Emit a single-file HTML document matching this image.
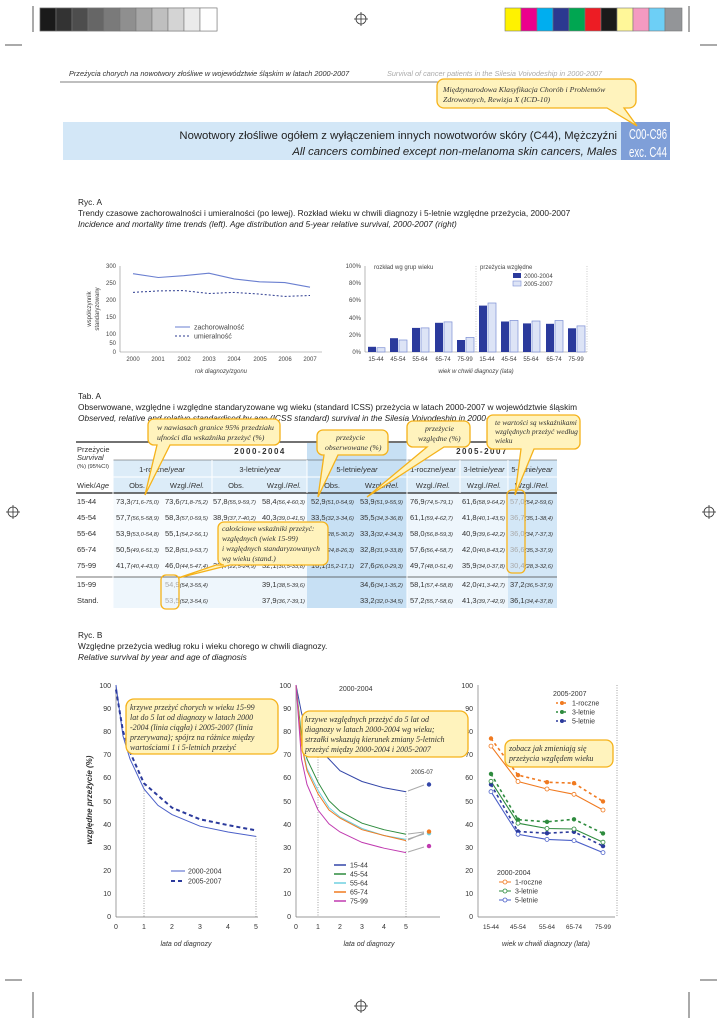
<!DOCTYPE html>
<html><head><meta charset="utf-8"><style>
body{margin:0;background:#fff}
svg{display:block;font-family:"Liberation Sans",sans-serif}
.s{font-family:"Liberation Serif",serif;font-style:italic}
.i{font-style:italic}
.t{font-size:7.5px;fill:#333}
.c{font-size:5.8px;font-style:italic;fill:#333}
.cl{fill:#fff3bd;stroke:#f5b21a;stroke-width:1.3}
</style></head><body>
<svg width="722" height="1024" viewBox="0 0 722 1024">
<g stroke="#555" stroke-width="1"><line x1="33" y1="6" x2="33" y2="32"/><line x1="689" y1="6" x2="689" y2="32"/>
<line x1="5" y1="45" x2="22" y2="45"/><line x1="700" y1="45" x2="717" y2="45"/>
<line x1="33" y1="992" x2="33" y2="1018"/><line x1="689" y1="992" x2="689" y2="1018"/>
<line x1="5" y1="980" x2="22" y2="980"/><line x1="700" y1="980" x2="717" y2="980"/></g>
<g stroke="#777" stroke-width="0.6">
<rect x="40" y="8" width="177" height="23" fill="none"/>
<rect x="40" y="8" width="16" height="23" fill="#1a1a1a"/><rect x="56" y="8" width="16" height="23" fill="#333"/><rect x="72" y="8" width="16" height="23" fill="#4d4d4d"/><rect x="88" y="8" width="16" height="23" fill="#666"/><rect x="104" y="8" width="16" height="23" fill="#7a7a7a"/><rect x="120" y="8" width="16" height="23" fill="#8f8f8f"/><rect x="136" y="8" width="16" height="23" fill="#a6a6a6"/><rect x="152" y="8" width="16" height="23" fill="#bfbfbf"/><rect x="168" y="8" width="16" height="23" fill="#d4d4d4"/><rect x="184" y="8" width="16" height="23" fill="#ebebeb"/><rect x="200" y="8" width="17" height="23" fill="#fff"/>
<rect x="505" y="8" width="16" height="23" fill="#fff200"/><rect x="521" y="8" width="16" height="23" fill="#ec008c"/><rect x="537" y="8" width="16" height="23" fill="#00aeef"/><rect x="553" y="8" width="16" height="23" fill="#2b3990"/><rect x="569" y="8" width="16" height="23" fill="#00a651"/><rect x="585" y="8" width="16" height="23" fill="#ed1c24"/><rect x="601" y="8" width="16" height="23" fill="#1a1a1a"/><rect x="617" y="8" width="16" height="23" fill="#fff799"/><rect x="633" y="8" width="16" height="23" fill="#f49ac1"/><rect x="649" y="8" width="16" height="23" fill="#6dcff6"/><rect x="665" y="8" width="17" height="23" fill="#939598"/></g>
<g fill="none" stroke="#333" stroke-width="0.8">
<circle cx="361" cy="19" r="5"/><line x1="354" y1="19" x2="368" y2="19"/><line x1="361" y1="12" x2="361" y2="26"/>
<circle cx="361" cy="1006" r="5"/><line x1="354" y1="1006" x2="368" y2="1006"/><line x1="361" y1="999" x2="361" y2="1013"/>
<circle cx="13" cy="512" r="5"/><line x1="6" y1="512" x2="20" y2="512"/><line x1="13" y1="505" x2="13" y2="519"/>
<circle cx="709" cy="512" r="5"/><line x1="702" y1="512" x2="716" y2="512"/><line x1="709" y1="505" x2="709" y2="519"/></g>

<text x="69" y="76" font-size="7.3" class="i" fill="#333">Przeżycia chorych na nowotwory złośliwe w województwie śląskim w latach 2000-2007</text>
<text x="387" y="76" font-size="7.3" class="i" fill="#aaa">Survival of cancer patients in the Silesia Voivodeship in 2000-2007</text>
<line x1="60" y1="82" x2="625" y2="82" stroke="#555" stroke-width="0.8"/>
<rect x="63" y="122" width="558" height="38" fill="#d3e7f7"/>
<rect x="621" y="122" width="49" height="38" fill="#7f9fd8"/>
<text x="617" y="139" font-size="11.3" text-anchor="end" fill="#222">Nowotwory złośliwe ogółem z wyłączeniem innych nowotworów skóry (C44), Mężczyźni</text>
<text x="617" y="155" font-size="11.3" text-anchor="end" class="i" fill="#222">All cancers combined except non-melanoma skin cancers, Males</text>
<text x="629" y="139" font-size="15" fill="#fff" textLength="38" lengthAdjust="spacingAndGlyphs">C00-C96</text>
<text x="629" y="157" font-size="15" fill="#fff" textLength="38" lengthAdjust="spacingAndGlyphs">exc. C44</text>
<path class="cl" d="M444,79 h185 a7,7 0 0 1 7,7 v15 a7,7 0 0 1 -7,7 h-5 l13,18 l-30,-18 h-163 a7,7 0 0 1 -7,-7 v-15 a7,7 0 0 1 7,-7z"/>
<text class="s" x="443" y="92" font-size="7.8" fill="#333">Międzynarodowa Klasyfikacja Chorób i Problemów</text>
<text class="s" x="443" y="102" font-size="7.8" fill="#333">Zdrowotnych, Rewizja X (ICD-10)</text>

<text x="78" y="205" font-size="8.3" fill="#222">Ryc. A</text>
<text x="78" y="216" font-size="8.3" fill="#222">Trendy czasowe zachorowalności i umieralności (po lewej). Rozkład wieku w chwili diagnozy i 5-letnie względne przeżycia, 2000-2007</text>
<text x="78" y="227" font-size="8.3" class="i" fill="#222">Incidence and mortality time trends (left). Age distribution and 5-year relative survival, 2000-2007 (right)</text>

<g font-size="6" fill="#444">
<line x1="120" y1="266" x2="120" y2="352" stroke="#888" stroke-width="0.6"/><line x1="120" y1="352" x2="322" y2="352" stroke="#888" stroke-width="0.6"/>
<text x="116" y="268" text-anchor="end">300</text><text x="116" y="285" text-anchor="end">250</text><text x="116" y="302" text-anchor="end">200</text><text x="116" y="319" text-anchor="end">150</text><text x="116" y="336" text-anchor="end">100</text><text x="116" y="345" text-anchor="end">50</text><text x="116" y="354" text-anchor="end">0</text>
<text x="133" y="361" text-anchor="middle">2000</text><text x="158" y="361" text-anchor="middle">2001</text><text x="184" y="361" text-anchor="middle">2002</text><text x="209" y="361" text-anchor="middle">2003</text><text x="234" y="361" text-anchor="middle">2004</text><text x="260" y="361" text-anchor="middle">2005</text><text x="285" y="361" text-anchor="middle">2006</text><text x="310" y="361" text-anchor="middle">2007</text>
<text x="221" y="373" text-anchor="middle" class="i">rok diagnozy/zgonu</text>
<text transform="translate(91,309) rotate(-90)" text-anchor="middle">współczynnik</text>
<text transform="translate(99,309) rotate(-90)" text-anchor="middle">standaryzowany</text>
<polyline fill="none" stroke="#6a7fd0" stroke-width="1.1" points="133,273.7 158.3,277.5 183.6,275.7 208.9,273.2 234.2,278.9 259.5,281.8 284.8,282.6 310,287.2"/>
<polyline fill="none" stroke="#2b3a8f" stroke-width="1" stroke-dasharray="2,2" points="133,292.4 158.3,290.9 183.6,290.6 208.9,293.5 234.2,292.4 259.5,294.1 284.8,296.4 310,295.5"/>
<line x1="175" y1="327" x2="190" y2="327" stroke="#6a7fd0"/><text x="194" y="329.5" font-size="7">zachorowalność</text>
<line x1="175" y1="336" x2="190" y2="336" stroke="#2b3a8f" stroke-dasharray="2,2"/><text x="194" y="338.5" font-size="7">umieralność</text>

<line x1="365" y1="266" x2="365" y2="352" stroke="#888" stroke-width="0.6"/><line x1="365" y1="352" x2="587" y2="352" stroke="#888" stroke-width="0.6"/>
<line x1="476" y1="266" x2="476" y2="352" stroke="#aaa" stroke-width="0.6" stroke-dasharray="1,1.5"/>
<line x1="587" y1="266" x2="587" y2="352" stroke="#aaa" stroke-width="0.6" stroke-dasharray="1,1.5"/>
<text x="361" y="268" text-anchor="end">100%</text><text x="361" y="285" text-anchor="end">80%</text><text x="361" y="302" text-anchor="end">60%</text><text x="361" y="320" text-anchor="end">40%</text><text x="361" y="337" text-anchor="end">20%</text><text x="361" y="354" text-anchor="end">0%</text>
<text x="374" y="269">rozkład wg grup wieku</text><text x="480" y="269">przeżycia względne</text>
<rect x="513" y="273" width="8" height="5" fill="#2b3a9c"/><text x="524" y="278">2000-2004</text>
<rect x="513" y="281" width="8" height="5" fill="#dde4f6" stroke="#7c8fd4" stroke-width="0.6"/><text x="524" y="286">2005-2007</text>
<g fill="#2b3a9c">
<rect x="368" y="346.8" width="8" height="5.2"/><rect x="390" y="338.2" width="8" height="13.8"/><rect x="412" y="327.9" width="8" height="24.1"/><rect x="435" y="322.8" width="8" height="29.2"/><rect x="457" y="340" width="8" height="12"/>
<rect x="479" y="305.6" width="8" height="46.4"/><rect x="501" y="321.5" width="8" height="30.5"/><rect x="523" y="323.4" width="8" height="28.6"/><rect x="546" y="323.8" width="8" height="28.2"/><rect x="568" y="328.3" width="8" height="23.7"/></g>
<g fill="#dde4f6" stroke="#7c8fd4" stroke-width="0.7">
<rect x="377" y="347.7" width="8" height="4.3"/><rect x="399" y="340" width="8" height="12"/><rect x="421" y="327.9" width="8" height="24.1"/><rect x="444" y="321.9" width="8" height="30.1"/><rect x="466" y="337.4" width="8" height="14.6"/>
<rect x="488" y="303" width="8" height="49"/><rect x="510" y="320.4" width="8" height="31.6"/><rect x="532" y="321" width="8" height="31"/><rect x="555" y="320.5" width="8" height="31.5"/><rect x="577" y="325.9" width="8" height="26.1"/></g>
<text x="376" y="361" text-anchor="middle">15-44</text><text x="398" y="361" text-anchor="middle">45-54</text><text x="420" y="361" text-anchor="middle">55-64</text><text x="443" y="361" text-anchor="middle">65-74</text><text x="465" y="361" text-anchor="middle">75-99</text>
<text x="487" y="361" text-anchor="middle">15-44</text><text x="509" y="361" text-anchor="middle">45-54</text><text x="531" y="361" text-anchor="middle">55-64</text><text x="554" y="361" text-anchor="middle">65-74</text><text x="576" y="361" text-anchor="middle">75-99</text>
<text x="476" y="373" text-anchor="middle" class="i">wiek w chwili diagnozy (lata)</text>
</g>

<text x="78" y="399" font-size="8.3" fill="#222">Tab. A</text>
<text x="78" y="410" font-size="8.3" fill="#222">Obserwowane, względne i względne standaryzowane wg wieku (standard ICSS) przeżycia w latach 2000-2007 w województwie śląskim</text>
<text x="78" y="421" font-size="8.3" class="i" fill="#222">Observed, relative and relative standardised by age (ICSS standard) survival in the Silesia Voivodeship in 2000-2007</text>
<rect x="113" y="460" width="444" height="33" fill="#dcecf8"/>
<rect x="113" y="493" width="444" height="115" fill="#eef6fc"/>
<rect x="113" y="493" width="194" height="84" fill="#f7fbfe"/>
<rect x="307" y="443" width="100" height="165" fill="#c7e0f4"/>
<rect x="508" y="460" width="49" height="148" fill="#d3e7f7"/>
<g stroke="#444"><line x1="76" y1="442" x2="557" y2="442" stroke-width="1.6"/><line x1="113" y1="460" x2="557" y2="460" stroke-width="0.6"/>
<line x1="76" y1="493" x2="557" y2="493" stroke-width="1.6"/><line x1="76" y1="577" x2="557" y2="577" stroke-width="0.7"/>
<line x1="76" y1="477" x2="557" y2="477" stroke="#fff" stroke-width="1"/></g>
<g stroke="#fff" stroke-width="1"><line x1="113" y1="443" x2="113" y2="608"/><line x1="212" y1="460" x2="212" y2="493"/><line x1="307" y1="460" x2="307" y2="493"/><line x1="407" y1="443" x2="407" y2="608"/><line x1="460" y1="460" x2="460" y2="493"/><line x1="508" y1="460" x2="508" y2="493"/></g>
<g font-size="7.5" fill="#333">
<text x="77" y="452">Przeżycie</text><text x="77" y="460" class="i">Survival</text><text x="77" y="468" font-size="5.8">(%) (95%CI)</text>
<text x="260" y="454" text-anchor="middle" font-weight="bold" letter-spacing="1.5" font-size="8">2000-2004</text>
<text x="482" y="454" text-anchor="middle" font-weight="bold" letter-spacing="1.5" font-size="8">2005-2007</text>
<text x="162" y="472" text-anchor="middle">1-roczne/<tspan class="i">year</tspan></text><text x="260" y="472" text-anchor="middle">3-letnie/<tspan class="i">year</tspan></text><text x="357" y="472" text-anchor="middle">5-letnie/<tspan class="i">year</tspan></text>
<text x="433" y="472" text-anchor="middle">1-roczne/<tspan class="i">year</tspan></text><text x="484" y="472" text-anchor="middle">3-letnie/<tspan class="i">year</tspan></text><text x="532" y="472" text-anchor="middle">5-letnie/<tspan class="i">year</tspan></text>
<text x="77" y="488">Wiek/<tspan class="i">Age</tspan></text>
<text x="137" y="488" text-anchor="middle">Obs.</text><text x="187" y="488" text-anchor="middle">Wzgl./<tspan class="i">Rel.</tspan></text><text x="236" y="488" text-anchor="middle">Obs.</text><text x="284" y="488" text-anchor="middle">Wzgl./<tspan class="i">Rel.</tspan></text><text x="332" y="488" text-anchor="middle">Obs.</text><text x="382" y="488" text-anchor="middle">Wzgl./<tspan class="i">Rel.</tspan></text><text x="433" y="488" text-anchor="middle">Wzgl./<tspan class="i">Rel.</tspan></text><text x="484" y="488" text-anchor="middle">Wzgl./<tspan class="i">Rel.</tspan></text><text x="532" y="488" text-anchor="middle">Wzgl./<tspan class="i">Rel.</tspan></text>
</g>
<g class="t">
<text x="77" y="504">15-44</text><text x="77" y="520">45-54</text><text x="77" y="536">55-64</text><text x="77" y="552">65-74</text><text x="77" y="568">75-99</text><text x="77" y="587">15-99</text><text x="77" y="603">Stand.</text>
<text x="116" y="504">73,3<tspan class="c">(71,6-75,0)</tspan></text><text x="165" y="504">73,6<tspan class="c">(71,8-75,2)</tspan></text><text x="213" y="504">57,8<tspan class="c">(55,9-59,7)</tspan></text><text x="262" y="504">58,4<tspan class="c">(56,4-60,3)</tspan></text><text x="311" y="504">52,9<tspan class="c">(51,0-54,9)</tspan></text><text x="360" y="504">53,9<tspan class="c">(51,9-55,9)</tspan></text><text x="410" y="504">76,9<tspan class="c">(74,5-79,1)</tspan></text><text x="462" y="504">61,6<tspan class="c">(58,9-64,2)</tspan></text><text x="510" y="504"><tspan fill="#aaa">57,0</tspan><tspan class="c">(54,2-59,6)</tspan></text>
<text x="116" y="520">57,7<tspan class="c">(56,5-58,9)</tspan></text><text x="165" y="520">58,3<tspan class="c">(57,0-59,5)</tspan></text><text x="213" y="520">38,9<tspan class="c">(37,7-40,2)</tspan></text><text x="262" y="520">40,3<tspan class="c">(39,0-41,5)</tspan></text><text x="311" y="520">33,5<tspan class="c">(32,3-34,6)</tspan></text><text x="360" y="520">35,5<tspan class="c">(34,3-36,8)</tspan></text><text x="410" y="520">61,1<tspan class="c">(59,4-62,7)</tspan></text><text x="462" y="520">41,8<tspan class="c">(40,1-43,5)</tspan></text><text x="510" y="520"><tspan fill="#aaa">36,7</tspan><tspan class="c">(35,1-38,4)</tspan></text>
<text x="116" y="536">53,9<tspan class="c">(53,0-54,8)</tspan></text><text x="165" y="536">55,1<tspan class="c">(54,2-56,1)</tspan></text><text x="311" y="536">29,3<tspan class="c">(28,5-30,2)</tspan></text><text x="360" y="536">33,3<tspan class="c">(32,4-34,3)</tspan></text><text x="410" y="536">58,0<tspan class="c">(56,8-59,3)</tspan></text><text x="462" y="536">40,9<tspan class="c">(39,6-42,2)</tspan></text><text x="510" y="536"><tspan fill="#aaa">36,0</tspan><tspan class="c">(34,7-37,3)</tspan></text>
<text x="116" y="552">50,5<tspan class="c">(49,6-51,3)</tspan></text><text x="165" y="552">52,8<tspan class="c">(51,9-53,7)</tspan></text><text x="311" y="552">25,6<tspan class="c">(24,8-26,3)</tspan></text><text x="360" y="552">32,8<tspan class="c">(31,9-33,8)</tspan></text><text x="410" y="552">57,6<tspan class="c">(56,4-58,7)</tspan></text><text x="462" y="552">42,0<tspan class="c">(40,8-43,2)</tspan></text><text x="510" y="552"><tspan fill="#aaa">36,6</tspan><tspan class="c">(35,3-37,9)</tspan></text>
<text x="116" y="568">41,7<tspan class="c">(40,4-43,0)</tspan></text><text x="165" y="568">46,0<tspan class="c">(44,5-47,4)</tspan></text><text x="213" y="568">23,7<tspan class="c">(22,5-24,9)</tspan></text><text x="262" y="568">32,1<tspan class="c">(30,5-33,8)</tspan></text><text x="311" y="568">16,1<tspan class="c">(15,2-17,1)</tspan></text><text x="360" y="568">27,6<tspan class="c">(26,0-29,3)</tspan></text><text x="410" y="568">49,7<tspan class="c">(48,0-51,4)</tspan></text><text x="462" y="568">35,9<tspan class="c">(34,0-37,8)</tspan></text><text x="510" y="568"><tspan fill="#aaa">30,4</tspan><tspan class="c">(28,3-32,6)</tspan></text>
<text x="165" y="587"><tspan fill="#aaa">54,9</tspan><tspan class="c">(54,3-55,4)</tspan></text><text x="262" y="587">39,1<tspan class="c">(38,5-39,6)</tspan></text><text x="360" y="587">34,6<tspan class="c">(34,1-35,2)</tspan></text><text x="410" y="587">58,1<tspan class="c">(57,4-58,8)</tspan></text><text x="462" y="587">42,0<tspan class="c">(41,3-42,7)</tspan></text><text x="510" y="587">37,2<tspan class="c">(36,5-37,9)</tspan></text>
<text x="165" y="603"><tspan fill="#aaa">53,5</tspan><tspan class="c">(52,3-54,6)</tspan></text><text x="262" y="603">37,9<tspan class="c">(36,7-39,1)</tspan></text><text x="360" y="603">33,2<tspan class="c">(32,0-34,5)</tspan></text><text x="410" y="603">57,2<tspan class="c">(55,7-58,6)</tspan></text><text x="462" y="603">41,3<tspan class="c">(39,7-42,9)</tspan></text><text x="510" y="603">36,1<tspan class="c">(34,4-37,8)</tspan></text>
</g>
<g fill="none" stroke="#f5b21a" stroke-width="1.3"><rect x="507" y="490" width="18" height="83" rx="5"/><rect x="161" y="575" width="18" height="34" rx="5"/></g>
<path class="cl" d="M154,419 h120 a6,6 0 0 1 6,6 v14 a6,6 0 0 1 -6,6 h-104 l-25,50 l12,-50 h-3 a6,6 0 0 1 -6,-6 v-14 a6,6 0 0 1 6,-6z"/>
<text class="s" x="157" y="430" font-size="7.8" fill="#333">w nawiasach granice 95% przedziału</text><text class="s" x="157" y="440" font-size="7.8" fill="#333">ufności dla wskaźnika przeżyć (%)</text>
<path class="cl" d="M323,430 h59 a6,6 0 0 1 6,6 v13 a6,6 0 0 1 -6,6 h-44 l-20,42 l6,-42 h-1 a6,6 0 0 1 -6,-6 v-13 a6,6 0 0 1 6,-6z"/>
<text class="s" x="336" y="440" font-size="7.8" fill="#333">przeżycie</text><text class="s" x="325" y="450" font-size="7.8" fill="#333">obserwowane (%)</text>
<path class="cl" d="M413,421 h51 a6,6 0 0 1 6,6 v14 a6,6 0 0 1 -6,6 h-20 l-77,50 l60,-50 h-14 a6,6 0 0 1 -6,-6 v-14 a6,6 0 0 1 6,-6z"/>
<text class="s" x="425" y="431" font-size="7.8" fill="#333">przeżycie</text><text class="s" x="418" y="441" font-size="7.8" fill="#333">względne (%)</text>
<path class="cl" d="M493,415 h81 a6,6 0 0 1 6,6 v22 a6,6 0 0 1 -6,6 h-40 l-19,46 l6,-46 h-28 a6,6 0 0 1 -6,-6 v-22 a6,6 0 0 1 6,-6z"/>
<text class="s" x="495" y="425" font-size="7.5" fill="#333">te wartości są wskaźnikami</text><text class="s" x="495" y="434" font-size="7.5" fill="#333">względnych przeżyć według</text><text class="s" x="495" y="443" font-size="7.5" fill="#333">wieku</text>
<path class="cl" d="M224,522 h98 a6,6 0 0 1 6,6 v31 a6,6 0 0 1 -6,6 h-92 l-52,13 l38,-13 h8 a6,6 0 0 1 -6,-6 v-31 a6,6 0 0 1 6,-6z"/>
<text class="s" x="222" y="531" font-size="7.6" fill="#333">całościowe wskaźniki przeżyć:</text><text class="s" x="222" y="541" font-size="7.6" fill="#333">względnych (wiek 15-99)</text><text class="s" x="222" y="551" font-size="7.6" fill="#333">i względnych standaryzowanych</text><text class="s" x="222" y="561" font-size="7.6" fill="#333">wg wieku (stand.)</text>

<text x="78" y="638" font-size="8.3" fill="#222">Ryc. B</text>
<text x="78" y="649" font-size="8.3" fill="#222">Względne przeżycia według roku i wieku chorego w chwili diagnozy.</text>
<text x="78" y="660" font-size="8.3" class="i" fill="#222">Relative survival by year and age of diagnosis</text>
<g font-size="7" fill="#333">
<text transform="translate(92,800) rotate(-90)" text-anchor="middle" font-weight="bold" class="i" font-size="8">względne przeżycie (%)</text>
<g stroke="#777" stroke-width="0.7"><line x1="116" y1="685" x2="116" y2="917"/><line x1="116" y1="917" x2="258" y2="917"/>
<line x1="144" y1="783" x2="144" y2="917" stroke-dasharray="1,1.5"/><line x1="256" y1="836" x2="256" y2="917" stroke-dasharray="1,1.5"/></g>
<g stroke="#777" stroke-width="0.7"><line x1="296" y1="685" x2="296" y2="917"/><line x1="296" y1="917" x2="440" y2="917"/>
<line x1="318" y1="747" x2="318" y2="917" stroke-dasharray="1,1.5"/><line x1="406" y1="791" x2="406" y2="917" stroke-dasharray="1,1.5"/>
<line x1="478" y1="685" x2="478" y2="917"/><line x1="478" y1="917" x2="615" y2="917"/><line x1="617" y1="685" x2="617" y2="917" stroke-dasharray="1,1.5"/></g>
<g text-anchor="end">
<text x="111" y="688">100</text><text x="111" y="711">90</text><text x="111" y="734">80</text><text x="111" y="757">70</text><text x="111" y="780">60</text><text x="111" y="804">50</text><text x="111" y="827">40</text><text x="111" y="850">30</text><text x="111" y="873">20</text><text x="111" y="896">10</text><text x="111" y="919">0</text>
<text x="291" y="688">100</text><text x="291" y="711">90</text><text x="291" y="734">80</text><text x="291" y="757">70</text><text x="291" y="780">60</text><text x="291" y="804">50</text><text x="291" y="827">40</text><text x="291" y="850">30</text><text x="291" y="873">20</text><text x="291" y="896">10</text><text x="291" y="919">0</text>
<text x="473" y="688">100</text><text x="473" y="711">90</text><text x="473" y="734">80</text><text x="473" y="757">70</text><text x="473" y="780">60</text><text x="473" y="804">50</text><text x="473" y="827">40</text><text x="473" y="850">30</text><text x="473" y="873">20</text><text x="473" y="896">10</text><text x="473" y="919">0</text></g>
<g text-anchor="middle">
<text x="116" y="929">0</text><text x="144" y="929">1</text><text x="172" y="929">2</text><text x="200" y="929">3</text><text x="228" y="929">4</text><text x="256" y="929">5</text>
<text x="296" y="929">0</text><text x="318" y="929">1</text><text x="340" y="929">2</text><text x="362" y="929">3</text><text x="384" y="929">4</text><text x="406" y="929">5</text>
<text x="491" y="929" font-size="6.3">15-44</text><text x="518" y="929" font-size="6.3">45-54</text><text x="547" y="929" font-size="6.3">55-64</text><text x="574" y="929" font-size="6.3">65-74</text><text x="603" y="929" font-size="6.3">75-99</text>
<text x="186" y="946" class="i">lata od diagnozy</text><text x="369" y="946" class="i">lata od diagnozy</text><text x="546" y="946" class="i">wiek w chwili diagnozy (lata)</text></g>
<polyline fill="none" stroke="#4a5fc8" stroke-width="1" points="116,685 123,736 130,759 144,789 158,805.4 172,814.6 200,826.2 228,832 256,836.4"/>
<polyline fill="none" stroke="#2b3a9c" stroke-width="2" stroke-dasharray="4,3" points="116,689.6 123,731.3 130,752.1 144,783.4 172,807.7 200,819.3 228,825.1 256,830.4"/>
<line x1="171" y1="871" x2="185" y2="871" stroke="#4a5fc8"/><text x="188" y="873.5">2000-2004</text>
<line x1="171" y1="881" x2="185" y2="881" stroke="#2b3a9c" stroke-width="2" stroke-dasharray="4,3"/><text x="188" y="883.5">2005-2007</text>
<text x="339" y="691">2000-2004</text><text x="411" y="774" font-size="6">2005-07</text>
<polyline fill="none" stroke="#3346a8" stroke-width="1" points="296,685 301.5,712.8 307,731.3 318,747.5 340,770.7 362,781.5 384,787.8 406,791.7"/>
<polyline fill="none" stroke="#2e8b3e" stroke-width="1" points="296,685 301.5,735.9 307,759 318,782.2 329,800.7 340,811.2 362,823.2 384,829.7 406,834.3"/>
<polyline fill="none" stroke="#6fd0e0" stroke-width="1" points="296,685 301.5,742.9 307,768.3 318,790.3 329,807.7 340,817 362,828.5 384,835.5 406,839.4"/>
<polyline fill="none" stroke="#f07a20" stroke-width="1" points="296,685 301.5,745.2 307,770.7 318,793.8 329,810 340,818.1 362,829.7 384,835.5 406,840.6"/>
<polyline fill="none" stroke="#c03ab0" stroke-width="1" points="296,685 301.5,759 307,784.5 318,810 329,823.9 340,832 362,842.4 384,848.2 406,852.6"/>
<g stroke="#aaa" stroke-width="1"><line x1="408" y1="791" x2="424" y2="785"/><line x1="408" y1="834" x2="424" y2="832"/><line x1="408" y1="839" x2="424" y2="834"/><line x1="408" y1="840" x2="424" y2="833"/><line x1="408" y1="852" x2="424" y2="847"/></g>
<circle cx="429" cy="784.5" r="2.2" fill="#3346a8"/><circle cx="429" cy="833.2" r="2.2" fill="#6fd0e0"/><circle cx="429" cy="831.6" r="2.2" fill="#f07a20"/><circle cx="429" cy="846.1" r="2.2" fill="#c03ab0"/>
<line x1="334" y1="865" x2="346" y2="865" stroke="#3346a8" stroke-width="1.5"/><text x="350" y="867.5">15-44</text>
<line x1="334" y1="874" x2="346" y2="874" stroke="#2e8b3e" stroke-width="1.5"/><text x="350" y="876.5">45-54</text>
<line x1="334" y1="883" x2="346" y2="883" stroke="#6fd0e0" stroke-width="1.5"/><text x="350" y="885.5">55-64</text>
<line x1="334" y1="892" x2="346" y2="892" stroke="#f07a20" stroke-width="1.5"/><text x="350" y="894.5">65-74</text>
<line x1="334" y1="901" x2="346" y2="901" stroke="#c03ab0" stroke-width="1.5"/><text x="350" y="903.5">75-99</text>
<g fill="none" stroke-width="1.1">
<polyline stroke="#f07a20" stroke-dasharray="3,3" stroke-width="1.6" points="491,738.5 518,775.1 547,782.2 574,783.2 603,801.4"/>
<polyline stroke="#2e8b3e" stroke-dasharray="3,3" stroke-width="1.6" points="491,773.9 518,819.7 547,821.8 574,819.3 603,833.4"/>
<polyline stroke="#2b3a9c" stroke-dasharray="3,3" stroke-width="1.6" points="491,784.5 518,831.5 547,833.2 574,831.8 603,846.1"/>
<polyline stroke="#f07a20" points="491,746.1 518,781.5 547,789 574,794.3 603,810"/>
<polyline stroke="#2e8b3e" points="491,781.3 518,823.2 547,828.5 574,829 603,842.2"/>
<polyline stroke="#4a5fc8" points="491,791.7 518,834.3 547,839.4 574,840.6 603,852.6"/></g>
<g fill="#f07a20"><circle cx="491" cy="738.5" r="2.2"/><circle cx="518" cy="775.1" r="2.2"/><circle cx="547" cy="782.2" r="2.2"/><circle cx="574" cy="783.2" r="2.2"/><circle cx="603" cy="801.4" r="2.2"/></g>
<g fill="#2e8b3e"><circle cx="491" cy="773.9" r="2.2"/><circle cx="518" cy="819.7" r="2.2"/><circle cx="547" cy="821.8" r="2.2"/><circle cx="574" cy="819.3" r="2.2"/><circle cx="603" cy="833.4" r="2.2"/></g>
<g fill="#2b3a9c"><circle cx="491" cy="784.5" r="2.2"/><circle cx="518" cy="831.5" r="2.2"/><circle cx="547" cy="833.2" r="2.2"/><circle cx="574" cy="831.8" r="2.2"/><circle cx="603" cy="846.1" r="2.2"/></g>
<g fill="#fff" stroke-width="0.8">
<g stroke="#f07a20"><circle cx="491" cy="746.1" r="2"/><circle cx="518" cy="781.5" r="2"/><circle cx="547" cy="789" r="2"/><circle cx="574" cy="794.3" r="2"/><circle cx="603" cy="810" r="2"/></g>
<g stroke="#2e8b3e"><circle cx="491" cy="781.3" r="2"/><circle cx="518" cy="823.2" r="2"/><circle cx="547" cy="828.5" r="2"/><circle cx="574" cy="829" r="2"/><circle cx="603" cy="842.2" r="2"/></g>
<g stroke="#4a5fc8"><circle cx="491" cy="791.7" r="2"/><circle cx="518" cy="834.3" r="2"/><circle cx="547" cy="839.4" r="2"/><circle cx="574" cy="840.6" r="2"/><circle cx="603" cy="852.6" r="2"/></g></g>
<text x="553" y="696">2005-2007</text>
<line x1="556" y1="703" x2="568" y2="703" stroke="#f07a20" stroke-width="1.5" stroke-dasharray="2,2"/><circle cx="562" cy="703" r="2" fill="#f07a20"/><text x="572" y="705.5">1-roczne</text>
<line x1="556" y1="712" x2="568" y2="712" stroke="#2e8b3e" stroke-width="1.5" stroke-dasharray="2,2"/><circle cx="562" cy="712" r="2" fill="#2e8b3e"/><text x="572" y="714.5">3-letnie</text>
<line x1="556" y1="721" x2="568" y2="721" stroke="#2b3a9c" stroke-width="1.5" stroke-dasharray="2,2"/><circle cx="562" cy="721" r="2" fill="#2b3a9c"/><text x="572" y="723.5">5-letnie</text>
<text x="497" y="875">2000-2004</text>
<line x1="499" y1="882" x2="511" y2="882" stroke="#f07a20"/><circle cx="505" cy="882" r="2" fill="#fff" stroke="#f07a20" stroke-width="0.8"/><text x="515" y="884.5">1-roczne</text>
<line x1="499" y1="891" x2="511" y2="891" stroke="#2e8b3e"/><circle cx="505" cy="891" r="2" fill="#fff" stroke="#2e8b3e" stroke-width="0.8"/><text x="515" y="893.5">3-letnie</text>
<line x1="499" y1="900" x2="511" y2="900" stroke="#4a5fc8"/><circle cx="505" cy="900" r="2" fill="#fff" stroke="#4a5fc8" stroke-width="0.8"/><text x="515" y="902.5">5-letnie</text>
</g>
<rect class="cl" x="126" y="699" width="152" height="55" rx="8"/>
<g class="s" font-size="8" fill="#333"><text x="130" y="710">krzywe przeżyć chorych w wieku 15-99</text><text x="130" y="720">lat do 5 lat od diagnozy w latach 2000</text><text x="130" y="730">-2004 (linia ciągła) i 2005-2007 (linia</text><text x="130" y="740">przerywana); spójrz na różnice między</text><text x="130" y="750">wartościami 1 i 5-letnich przeżyć</text></g>
<rect class="cl" x="302" y="711" width="166" height="46" rx="8"/>
<g class="s" font-size="8" fill="#333"><text x="305" y="722">krzywe względnych przeżyć do 5 lat od</text><text x="305" y="732">diagnozy w latach 2000-2004 wg wieku;</text><text x="305" y="742">strzałki wskazują kierunek zmiany 5-letnich</text><text x="305" y="752">przeżyć między 2000-2004 i 2005-2007</text></g>
<rect class="cl" x="505" y="740" width="108" height="27" rx="7"/>
<g class="s" font-size="8" fill="#333"><text x="509" y="751">zobacz jak zmieniają się</text><text x="509" y="761">przeżycia względem wieku</text></g>
</svg>
</body></html>
